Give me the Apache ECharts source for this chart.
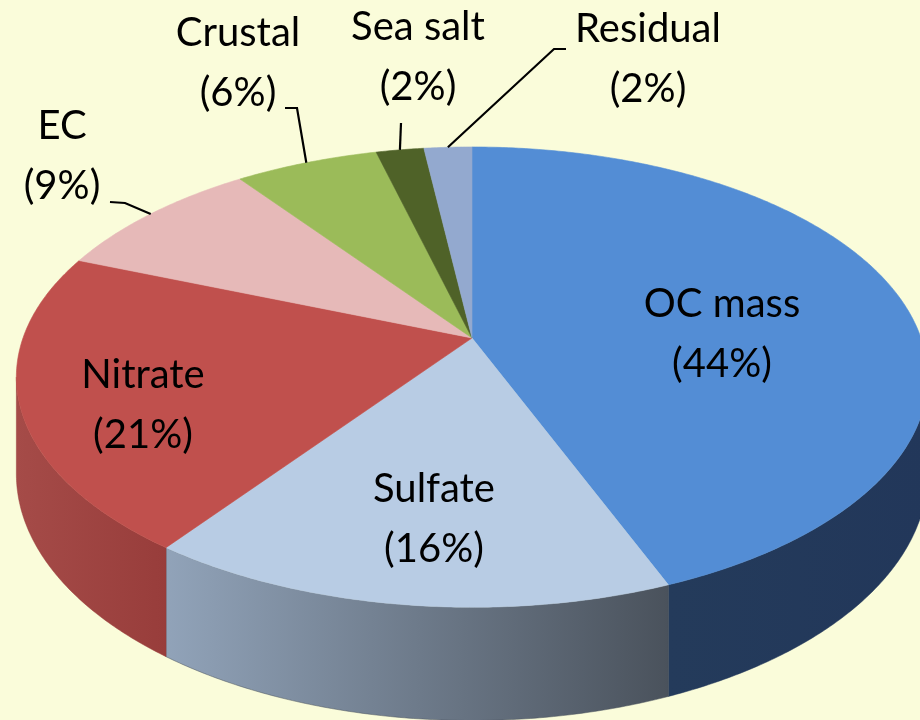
<!DOCTYPE html>
<html>
<head>
<meta charset="utf-8">
<script src="https://cdn.jsdelivr.net/npm/echarts@6/dist/echarts.min.js"></script>
<style>
  html, body { margin: 0; padding: 0; background: #fafcda; }
  #chart { width: 920px; height: 720px; }
</style>
</head>
<body>
<div id="chart"></div>
<script>
// ---- data ----
const categories = ['OC mass', 'Sulfate', 'Nitrate', 'EC', 'Crustal', 'Sea salt', 'Residual'];
const shares = [44, 16, 21, 9, 6, 2, 2];

// ---- styles ----
const topColors = ['#538dd5', '#b8cce4', '#c0504d', '#e6b9b8', '#9bbb59', '#4f6228', '#93a9cf'];
const sideColors = [
  ['#243b5b', '#22375a'],
  ['#91a3b9', '#4a525c'],
  ['#a54b48', '#983d3b'],
  ['#c9a2a1', '#c9a2a1'],
  ['#7f9a48', '#7f9a48'],
  ['#3f4f20', '#3f4f20'],
  ['#7a8bab', '#7a8bab']
];

// ---- 3D projection layout ----
const CX = 472, CY = 338, RX = 449, RY = 223.5, PERSP = 0.17, DEPTH = 94;
// label layout (block centers) and leader line anchors
const labelPos = {
  'OC mass': [722, 334], 'Sulfate': [434, 519], 'Nitrate': [143, 405],
  'EC': [62, 156], 'Crustal': [238, 63], 'Sea salt': [418, 57], 'Residual': [648, 59]
};
const leaderPts = {
  'EC': [[110, 202], [125, 203]],
  'Crustal': [[285, 108], [297, 108]],
  'Sea salt': [[401, 123]],
  'Residual': [[566, 49], [554, 49]]
};

function proj(theta, down) {
  const u = Math.sin(theta), v = Math.cos(theta);
  const d = 1 + PERSP * v;
  return [CX + RX * u / d, CY - RY * v / d + (down ? DEPTH / d : 0)];
}
function arc(a, b, down) {
  const pts = [];
  const n = Math.max(2, Math.ceil(Math.abs(b - a) / (Math.PI / 360)));
  for (let k = 0; k <= n; k++) pts.push(proj(a + (b - a) * k / n, down));
  return pts;
}

const total = shares.reduce((s, v) => s + v, 0);
const visA = Math.acos(-PERSP), visB = 2 * Math.PI - Math.acos(-PERSP);

function renderItem(params, api) {
  const i = params.dataIndex;
  let before = 0;
  for (let k = 0; k < i; k++) before += shares[k];
  const val = api.value(0);
  const a0 = before / total * 2 * Math.PI;
  const a1 = (before + val) / total * 2 * Math.PI;
  const name = categories[i];
  const children = [];

  // top face
  children.push({
    type: 'polygon', z2: 10,
    shape: { points: [[CX, CY]].concat(arc(a0, a1, false)) },
    style: { fill: topColors[i], stroke: topColors[i], lineWidth: 0.6 }
  });

  // outer wall (visible part)
  const wa = Math.max(a0, visA), wb = Math.min(a1, visB);
  if (wb > wa) {
    const topArc = arc(wa, wb, false);
    const botArc = arc(wa, wb, true).reverse();
    const pts = topArc.concat(botArc);
    const xs = pts.map(p => p[0]);
    const xmin = Math.min.apply(null, xs), xmax = Math.max.apply(null, xs);
    children.push({
      type: 'polygon', z2: 5,
      shape: { points: pts },
      style: {
        fill: new echarts.graphic.LinearGradient(xmin, 0, xmax, 0, [
          { offset: 0, color: sideColors[i][0] },
          { offset: 1, color: sideColors[i][1] }
        ], true),
        stroke: sideColors[i][1], lineWidth: 0.5
      }
    });
  }

  // label
  const lp = labelPos[name];
  children.push({
    type: 'text', z2: 30,
    style: {
      text: name + '\n(' + val + '%)',
      x: lp[0], y: lp[1],
      align: 'center', verticalAlign: 'middle',
      fontFamily: 'Lato', fontSize: 40, lineHeight: 60,
      fill: '#000'
    }
  });

  // leader line
  if (leaderPts[name]) {
    const edge = proj((a0 + a1) / 2, false);
    children.push({
      type: 'polyline', z2: 30,
      shape: { points: leaderPts[name].concat([edge]) },
      style: { stroke: '#000', lineWidth: 2.2, fill: null }
    });
  }

  return { type: 'group', children: children };
}

const chart = echarts.init(document.getElementById('chart'), null, { renderer: 'canvas' });
chart.setOption({
  backgroundColor: '#fafcda',
  animation: false,
  series: [{
    type: 'custom',
    coordinateSystem: 'none',
    renderItem: renderItem,
    data: shares.map((v, i) => ({ name: categories[i], value: [v] }))
  }]
});
</script>
</body>
</html>
